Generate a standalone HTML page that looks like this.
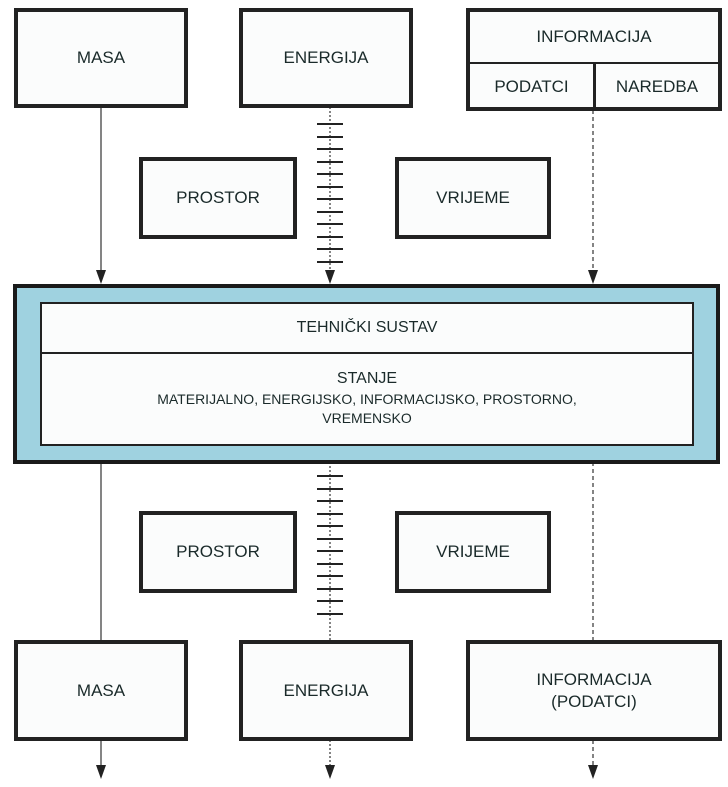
<!DOCTYPE html><html><head><style>
body{margin:0;width:728px;height:787px;background:#fff;position:relative;font-family:"Liberation Sans",sans-serif;color:#1a2a2a;overflow:hidden}
.b{position:absolute;border:4px solid #222;box-sizing:border-box;background:#fbfcfc;display:flex;align-items:center;justify-content:center;text-align:center;font-size:17px;line-height:22px}
</style></head><body>
<svg width="728" height="787" style="position:absolute;left:0;top:0">
<g stroke="#333" stroke-width="1.2">
<line x1="101" y1="107" x2="101" y2="272"/>
<line x1="330" y1="107" x2="330" y2="272" stroke-dasharray="2,2"/>
<line x1="593" y1="110" x2="593" y2="272" stroke-dasharray="4,3"/>
<line x1="101" y1="462" x2="101" y2="640"/>
<line x1="330" y1="462" x2="330" y2="640" stroke-dasharray="2,2"/>
<line x1="593" y1="462" x2="593" y2="640" stroke-dasharray="4,3"/>
<line x1="101" y1="740" x2="101" y2="767"/>
<line x1="330" y1="740" x2="330" y2="767" stroke-dasharray="2,2"/>
<line x1="593" y1="740" x2="593" y2="767" stroke-dasharray="4,3"/>
</g>
<g fill="#222">
<path d="M96,270 L106,270 L101,284z"/><path d="M325,270 L335,270 L330,284z"/><path d="M588,270 L598,270 L593,284z"/>
<path d="M96,765 L106,765 L101,779z"/><path d="M325,765 L335,765 L330,779z"/><path d="M588,765 L598,765 L593,779z"/>
</g>
<g stroke="#222" stroke-width="2" id="t">
<line x1="317" x2="343" y1="124" y2="124"/><line x1="317" x2="343" y1="137" y2="137"/><line x1="317" x2="343" y1="149" y2="149"/><line x1="317" x2="343" y1="162" y2="162"/><line x1="317" x2="343" y1="174" y2="174"/><line x1="317" x2="343" y1="187" y2="187"/><line x1="317" x2="343" y1="199" y2="199"/><line x1="317" x2="343" y1="212" y2="212"/><line x1="317" x2="343" y1="224" y2="224"/><line x1="317" x2="343" y1="237" y2="237"/><line x1="317" x2="343" y1="249" y2="249"/><line x1="317" x2="343" y1="262" y2="262"/>
</g>
<use href="#t" y="352"/>
</svg>
<div class="b" style="left:14px;top:8px;width:174px;height:100px">MASA</div>
<div class="b" style="left:239px;top:8px;width:174px;height:100px">ENERGIJA</div>
<div class="b" style="left:466px;top:8px;width:256px;height:103px;display:block">
<div style="height:50px;border-bottom:2px solid #222;line-height:50px">INFORMACIJA</div>
<div style="display:flex;height:45px;line-height:45px"><div style="width:123px;border-right:3px solid #222">PODATCI</div><div style="flex:1">NAREDBA</div></div></div>
<div class="b" style="left:139px;top:157px;width:158px;height:82px">PROSTOR</div>
<div class="b" style="left:395px;top:157px;width:156px;height:82px">VRIJEME</div>
<div style="position:absolute;left:13px;top:284px;width:707px;height:180px;box-sizing:border-box;border:4px solid #1a1a1a;background:#9fd2e0"></div>
<div style="position:absolute;left:40px;top:302px;width:654px;height:144px;box-sizing:border-box;border:2px solid #222;background:#fbfcfc;text-align:center;font-size:16px">
<div style="height:48px;line-height:48px;border-bottom:2px solid #222">TEHNIČKI SUSTAV</div>
<div style="padding-top:14px;line-height:22px">STANJE<br><span style="font-size:14px;line-height:19px;display:block">MATERIJALNO, ENERGIJSKO, INFORMACIJSKO, PROSTORNO,<br>VREMENSKO</span></div></div>
<div class="b" style="left:139px;top:511px;width:158px;height:82px">PROSTOR</div>
<div class="b" style="left:395px;top:511px;width:156px;height:82px">VRIJEME</div>
<div class="b" style="left:14px;top:640px;width:174px;height:101px">MASA</div>
<div class="b" style="left:239px;top:640px;width:174px;height:101px">ENERGIJA</div>
<div class="b" style="left:466px;top:640px;width:256px;height:101px">INFORMACIJA<br>(PODATCI)</div>
</body></html>
